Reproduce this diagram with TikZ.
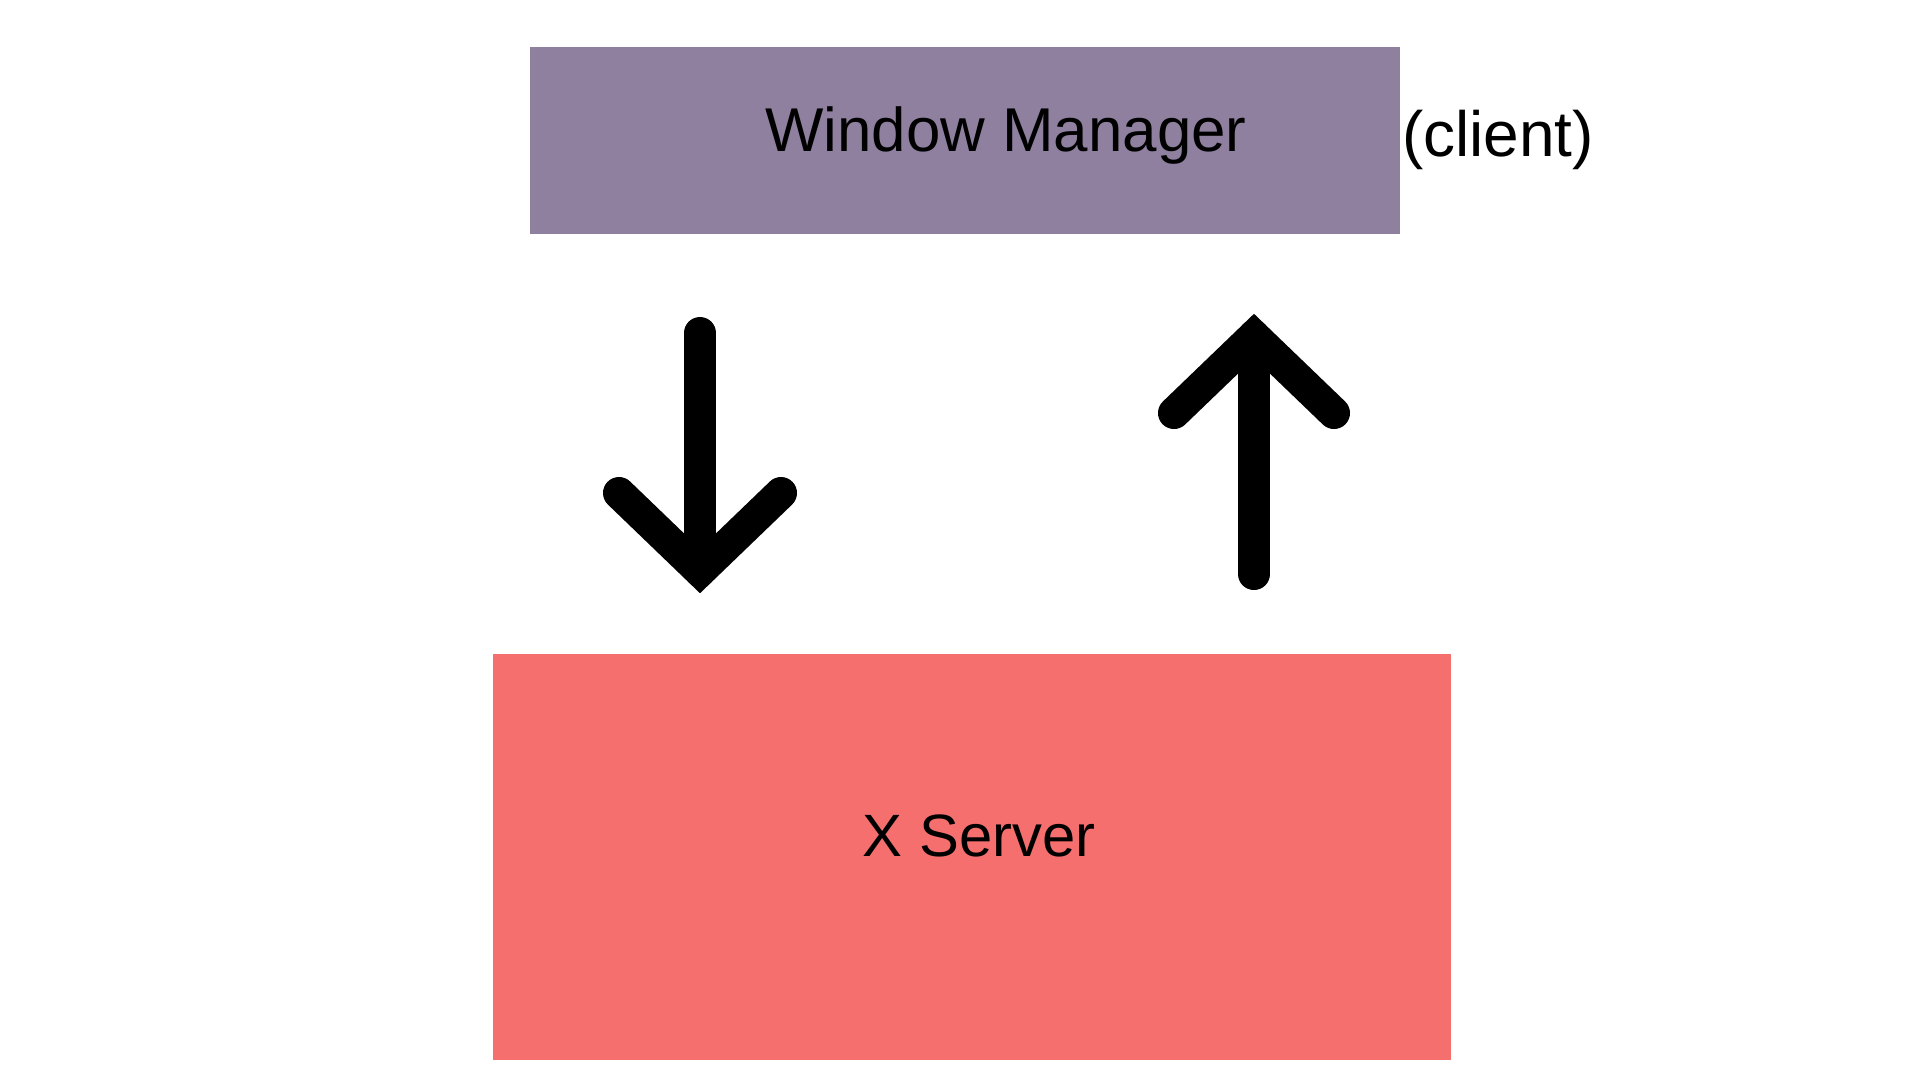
\documentclass[tikz,border=0pt]{standalone}
\usepackage{fontspec}
\setmainfont{Liberation Sans}
\definecolor{wmfill}{HTML}{8F80A0}
\definecolor{xsfill}{HTML}{F56F6F}
\tikzset{
  boxnode/.style={draw=none, inner sep=0pt, outer sep=0pt},
  lbl/.style={inner sep=0pt, anchor=base, font=\fontsize{17.6}{20}\selectfont},
  arrowline/.style={line width=3.2mm, line cap=round, line join=miter, black},
}
\begin{document}
\begin{tikzpicture}[x=0.1mm,y=-0.1mm]
  \fill[white] (0,0) rectangle (1920,1080);
  \useasboundingbox (0,0) rectangle (1920,1080);
  % boxes
  \node[boxnode, fill=wmfill, minimum width=87mm, minimum height=18.7mm] (wm) at (965,140.5) {};
  \node[boxnode, fill=xsfill, minimum width=95.8mm, minimum height=40.6mm] (xs) at (972,857) {};
  % texts
  \node[lbl] (wmtext) at (1006,151) {Window Manager};
  \node[lbl, font=\fontsize{17}{20}\selectfont] (xstext) at (979,856) {X Server};
  \node[lbl, font=\fontsize{18.2}{21}\selectfont] (client) at (1498,156) {(client)};
  % down arrow
  \coordinate (dtop) at (700,333);
  \coordinate (dtip) at (700,571);
  \coordinate (dwl) at (619,493);
  \coordinate (dwr) at (781,493);
  \draw[arrowline] (dtop) -- (dtip);
  \draw[arrowline] (dwl) -- (dtip) -- (dwr);
  % up arrow
  \coordinate (ubot) at (1254,574);
  \coordinate (utip) at (1254,336);
  \coordinate (uwl) at (1174,413);
  \coordinate (uwr) at (1334,413);
  \draw[arrowline] (ubot) -- (utip);
  \draw[arrowline] (uwl) -- (utip) -- (uwr);
\end{tikzpicture}
\end{document}
